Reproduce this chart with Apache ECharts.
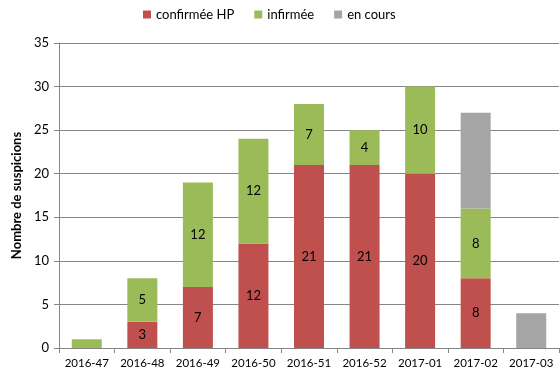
<!DOCTYPE html>
<html>
<head>
<meta charset="utf-8">
<script src="https://cdn.jsdelivr.net/npm/echarts@6/dist/echarts.min.js"></script>
<style>
  html, body { margin: 0; padding: 0; background: #fff; }
  #chart { width: 560px; height: 376px; }
</style>
</head>
<body>
<div id="chart"></div>
<script>
// weeks
var weeks = ['2016-47', '2016-48', '2016-49', '2016-50', '2016-51', '2016-52', '2017-01', '2017-02', '2017-03'];
var confirmee = [0, 3, 7, 12, 21, 21, 20, 8, 0];
var infirmee = [1, 5, 12, 12, 7, 4, 10, 8, 0];
var enCours = [0, 0, 0, 0, 0, 0, 0, 11, 4];
var yTicks = [0, 5, 10, 15, 20, 25, 30, 35];

var FONT = 'Lato';
var GRID_COLOR = '#868686';

var chart = echarts.init(document.getElementById('chart'));

function barLabel(show) {
    return {
        show: show,
        position: 'inside',
        color: '#000',
        fontFamily: FONT,
        fontSize: 13,
        formatter: function (p) {
            return p.value > 1 ? p.value : '';
        }
    };
}

var options = {
    animation: false,
    textStyle: {fontFamily: FONT},
    legend: {
        top: 3,
        left: 138,
        itemWidth: 8,
        itemHeight: 8,
        itemGap: 20,
        icon: 'rect',
        textStyle: {fontFamily: FONT, fontSize: 13, color: '#000'},
        data: ['confirmée HP', 'infirmée', 'en cours']
    },
    grid: {left: 59, right: 1, top: 43, bottom: 28},
    xAxis: {
        type: 'category',
        data: weeks,
        axisLine: {lineStyle: {color: GRID_COLOR}},
        axisTick: {show: true, length: 5, lineStyle: {color: GRID_COLOR}},
        axisLabel: {interval: 0, color: '#000', fontFamily: FONT, fontSize: 11.5, margin: 9}
    },
    yAxis: {
        type: 'value',
        min: 0,
        max: yTicks[yTicks.length - 1],
        interval: 5,
        name: 'Nombre de suspicions',
        nameLocation: 'middle',
        nameGap: 36,
        nameTextStyle: {fontFamily: FONT, fontWeight: 'bold', fontSize: 13, color: '#000'},
        axisLine: {show: true, lineStyle: {color: GRID_COLOR}},
        axisTick: {show: true, length: 5, lineStyle: {color: GRID_COLOR}},
        axisLabel: {color: '#000', fontFamily: FONT, fontSize: 13, margin: 10},
        splitLine: {lineStyle: {color: GRID_COLOR}}
    },
    series: [
        {
            name: 'confirmée HP',
            type: 'bar',
            stack: 'total',
            barWidth: 30,
            itemStyle: {color: '#C0504D'},
            label: barLabel(true),
            data: confirmee
        },
        {
            name: 'infirmée',
            type: 'bar',
            stack: 'total',
            itemStyle: {color: '#9BBB59'},
            label: barLabel(true),
            data: infirmee
        },
        {
            name: 'en cours',
            type: 'bar',
            stack: 'total',
            itemStyle: {color: '#A5A5A5'},
            label: barLabel(false),
            data: enCours
        }
    ]
};
chart.setOption(options);
</script>
</body>
</html>
